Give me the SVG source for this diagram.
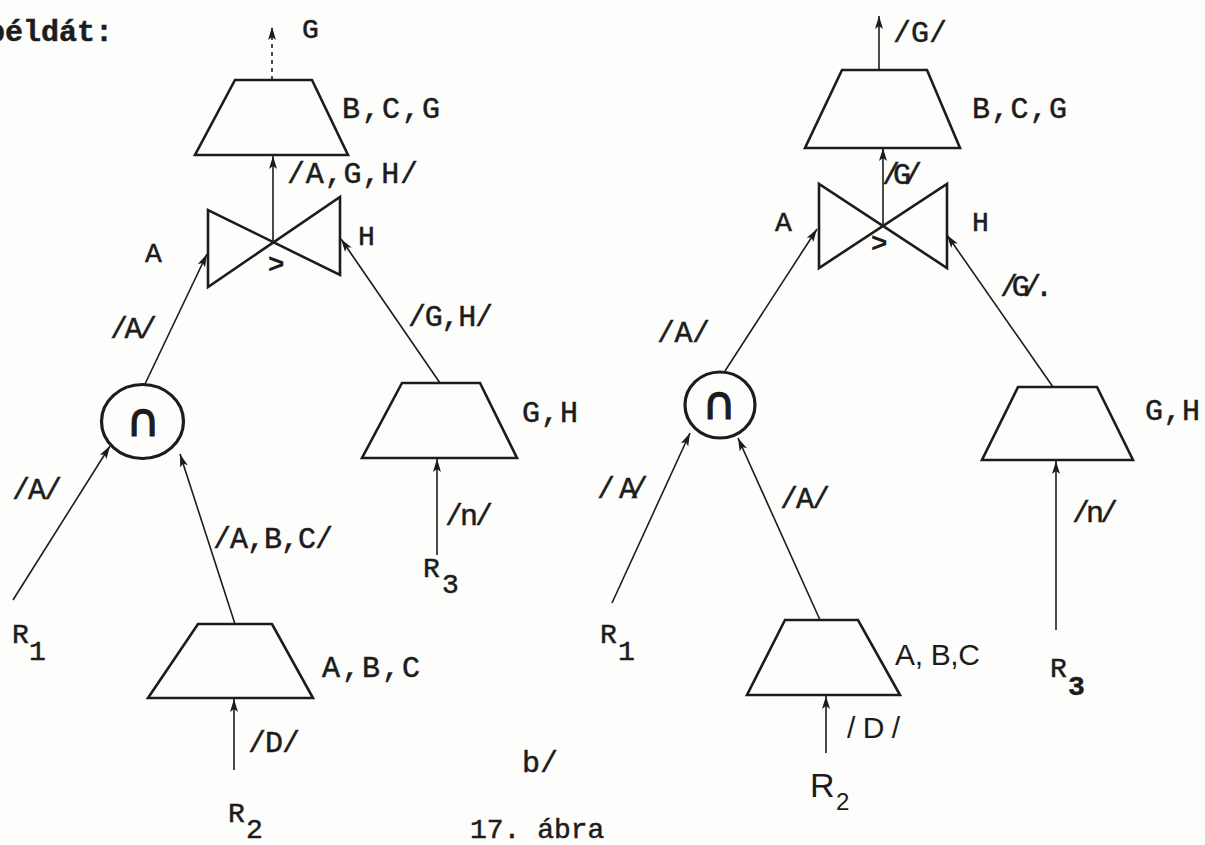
<svg xmlns="http://www.w3.org/2000/svg" width="1205" height="845" viewBox="0 0 1205 845">
<style>
.bg{fill:#fdfdfb}
.sh{fill:none;stroke:#1c1c1c;stroke-width:2.6;stroke-linejoin:miter}
.ci{fill:none;stroke:#1c1c1c;stroke-width:3.2}
.cn{fill:none;stroke:#1c1c1c;stroke-width:1.6}
.t{font-family:"Liberation Mono","Courier New",monospace;font-size:30px;fill:#1c1c1c;stroke:#1c1c1c;stroke-width:0.5}
.s{font-family:"Liberation Mono","Courier New",monospace;font-size:28px;fill:#1c1c1c;stroke:#1c1c1c;stroke-width:0.5}
.hw{font-family:"Liberation Sans",Arial,sans-serif;fill:#1c1c1c}
.sym{font-family:"DejaVu Sans",sans-serif;font-size:46px;fill:#1c1c1c;stroke:#1c1c1c;stroke-width:1.2;text-anchor:middle}
.gt{font-family:"Liberation Sans",Arial,sans-serif;font-size:28px;font-weight:bold;fill:#1c1c1c}
</style>
<defs>
<marker id="ah" markerUnits="userSpaceOnUse" markerWidth="14" markerHeight="10" refX="13" refY="4" orient="auto">
<path d="M0,0 L13,4 L0,8 L3,4 z" fill="#1c1c1c"/>
</marker>
</defs>
<rect class="bg" x="0" y="0" width="1205" height="845"/>
<text class="t" x="-13" y="41" font-size="31" font-weight="bold">példát:</text>

<g id="connectors">
<line class="cn" x1="272" y1="80" x2="272" y2="27" stroke-dasharray="4 4" marker-end="url(#ah)"/>
<line class="cn" x1="273" y1="243" x2="273" y2="156" marker-end="url(#ah)"/>
<line class="cn" x1="145" y1="384" x2="207" y2="254" marker-end="url(#ah)"/>
<line class="cn" x1="440" y1="383" x2="341" y2="239" marker-end="url(#ah)"/>
<line class="cn" x1="13" y1="600" x2="110" y2="446" marker-end="url(#ah)"/>
<line class="cn" x1="235" y1="624" x2="180" y2="454" marker-end="url(#ah)"/>
<line class="cn" x1="437" y1="555" x2="437" y2="459" marker-end="url(#ah)"/>
<line class="cn" x1="234" y1="770" x2="234" y2="699" marker-end="url(#ah)"/>
<line class="cn" x1="879" y1="70" x2="879" y2="16" marker-end="url(#ah)"/>
<line class="cn" x1="883" y1="226" x2="883" y2="148" marker-end="url(#ah)"/>
<line class="cn" x1="725" y1="371" x2="817" y2="229" marker-end="url(#ah)"/>
<line class="cn" x1="1053" y1="387" x2="947" y2="235" marker-end="url(#ah)"/>
<line class="cn" x1="612" y1="603" x2="690" y2="433" marker-end="url(#ah)"/>
<line class="cn" x1="820" y1="620" x2="738" y2="438" marker-end="url(#ah)"/>
<line class="cn" x1="1056" y1="630" x2="1056" y2="461" marker-end="url(#ah)"/>
<line class="cn" x1="826" y1="753" x2="826" y2="696" marker-end="url(#ah)"/>
</g>

<!-- left diagram -->
<g id="L-out"><text class="s" x="302" y="38">G</text></g>
<g id="L-proj-bcg">
<polygon class="sh" points="235,80 312,80 348,155 195,155"/>
<text class="t" x="342" y="118" textLength="98">B,C,G</text>
</g>
<text class="t" x="287" y="183" textLength="131">/A,G,H/</text>
<g id="L-join">
<path class="sh" d="M208,210 L208,287 L340,197 L340,275 Z"/>
<text class="gt" x="268" y="273">&gt;</text>
<text class="s" x="145" y="262">A</text>
<text class="s" x="358" y="245" font-size="26">H</text>
</g>
<text class="t" x="110" y="338" textLength="47">/A/</text>
<text class="t" x="408" y="326" textLength="85">/G,H/</text>
<g id="L-intersect">
<ellipse class="ci" cx="142.5" cy="421.5" rx="41" ry="37"/>
<text class="sym" x="143" y="436">∩</text>
</g>
<g id="L-proj-gh">
<polygon class="sh" points="402,383 480,383 517,458 362,458"/>
<text class="t" x="522" y="422" textLength="56">G,H</text>
</g>
<text class="t" x="12" y="499" textLength="50">/A/</text>
<text class="t" x="213" y="548" textLength="120">/A,B,C/</text>
<text class="t" x="445" y="525" textLength="48">/n/</text>
<g id="L-R3"><text class="s" x="423" y="577">R<tspan x="442" y="593">3</tspan></text></g>
<g id="L-R1"><text class="s" x="12" y="643">R<tspan x="29" y="660">1</tspan></text></g>
<g id="L-proj-abc">
<polygon class="sh" points="198,624 272,624 313,698 148,698"/>
<text class="t" x="322" y="677" textLength="98">A,B,C</text>
</g>
<text class="t" x="248" y="752" textLength="52">/D/</text>
<g id="L-R2"><text class="s" x="228" y="822">R<tspan x="246" y="838">2</tspan></text></g>
<text class="t" x="522" y="772">b/</text>
<text class="s" x="470" y="838">17. ábra</text>

<!-- right diagram -->
<text class="t" x="893" y="42" textLength="54">/G/</text>
<g id="R-proj-bcg">
<polygon class="sh" points="842,70 927,70 960,148 805,148"/>
<text class="t" x="972" y="118" textLength="95">B,C,G</text>
</g>
<text class="t" x="882" y="184" textLength="40">/G/</text>
<g id="R-join">
<path class="sh" d="M819,184 L819,268 L947,184 L947,268 Z"/>
<text class="gt" x="871" y="252">&gt;</text>
<text class="s" x="775" y="231">A</text>
<text class="s" x="972" y="231" font-size="26">H</text>
</g>
<text class="t" x="1000" y="296" textLength="53">/G/.</text>
<text class="t" x="657" y="342" textLength="53">/A/</text>
<g id="R-intersect">
<ellipse class="ci" cx="720" cy="405" rx="35" ry="33"/>
<text class="sym" x="719" y="419">∩</text>
</g>
<g id="R-proj-gh">
<polygon class="sh" points="1018,387 1097,387 1133,460 982,460"/>
<text class="t" x="1145" y="420" textLength="55">G,H</text>
</g>
<text class="t" x="597" y="498" textLength="51">/ A/</text>
<text class="t" x="780" y="508" textLength="50">/A/</text>
<text class="t" x="1072" y="522" textLength="46">/n/</text>
<g id="R-R1"><text class="s" x="600" y="643">R<tspan x="618" y="660">1</tspan></text></g>
<g id="R-proj-abc">
<polygon class="sh" points="785,620 858,620 900,695 747,695"/>
<text class="hw" x="895" y="665" font-size="30" textLength="85">A, B,C</text>
</g>
<g id="R-R3"><text class="s" x="1050" y="677">R<tspan x="1068" y="695" font-weight="bold">3</tspan></text></g>
<text class="hw" x="847" y="738" font-size="30" textLength="53">/D/</text>
<g id="R-R2"><text class="hw" x="810" y="797" font-size="34">R<tspan x="836" y="810" font-size="24">2</tspan></text></g>
</svg>
